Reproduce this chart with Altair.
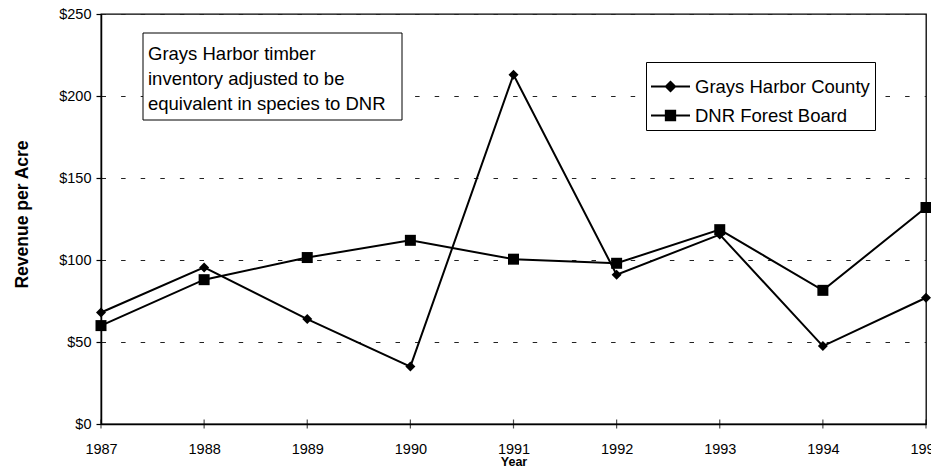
import altair as alt
import pandas as pd

years = [1987, 1988, 1989, 1990, 1991, 1992, 1993, 1994, 1995]
grays_harbor = [68, 95.5, 64, 35, 213, 91, 115.5, 47.5, 77]
dnr_forest = [60, 88, 101.5, 112, 100.5, 98, 118.5, 81.5, 132]
series_names = ["Grays Harbor County", "DNR Forest Board"]
y_ticks = [0, 50, 100, 150, 200, 250]
note_lines = ["Grays Harbor timber", "inventory adjusted to be", "equivalent in species to DNR"]

rows = []
for name, vals in zip(series_names, [grays_harbor, dnr_forest]):
    for yr, v in zip(years, vals):
        rows.append({"Year": yr, "Revenue": v, "Series": name})
df = pd.DataFrame(rows)
yr_df = pd.DataFrame({"Year": years})

FONT = "Liberation Sans"

x_enc = alt.X(
    "Year:Q",
    scale=alt.Scale(domain=[years[0], years[-1]], nice=False, zero=False),
    axis=alt.Axis(
        values=years, format="d", title="Year", ticks=False, tickSize=0,
        labelPadding=18.5, labelFontSize=14.5, labelFont=FONT, labelColor="black",
        labelFlush=False, labelOverlap=False, labelBound=False,
        domainColor="black", domainWidth=1.5, grid=False,
        titleFont=FONT, titleFontSize=12.5, titleFontWeight="bold",
        titleColor="black", titleBaseline="alphabetic", titleY=41,
    ),
)
y_enc = alt.Y(
    "Revenue:Q",
    scale=alt.Scale(domain=[0, 250], nice=False),
    axis=alt.Axis(
        values=y_ticks, format="$.0f", title="Revenue per Acre",
        tickSize=5, tickColor="black", tickWidth=1.2,
        labelPadding=5, labelFontSize=14.5, labelFont=FONT, labelColor="black",
        labelOverlap=False,
        domainColor="black", domainWidth=1.5,
        grid=True, gridColor="#222222", gridDash=[4.5, 15.1], gridWidth=1,
        titleFont=FONT, titleFontSize=17.5, titleFontWeight="bold",
        titleColor="black", titleX=-79, titleY=200, titleBaseline="middle",
    ),
)

box = alt.Chart(pd.DataFrame({"k": [0]})).mark_rect(
    fill="white", stroke="black", strokeWidth=1
).encode(
    x=alt.value(42), x2=alt.value(301), y=alt.value(19), y2=alt.value(106)
)
note = alt.Chart(pd.DataFrame({"k": [0]})).mark_text(
    align="left", baseline="alphabetic", font=FONT, fontSize=18.5,
    lineHeight=25, color="black"
).encode(x=alt.value(47), y=alt.value(46), text=alt.value(note_lines))

xticks = alt.Chart(yr_df).mark_tick(
    orient="vertical", size=9, thickness=1.2, color="black"
).encode(x=x_enc, y=alt.datum(0))

lines = alt.Chart(df).mark_line(color="black", strokeWidth=2).encode(
    x=x_enc, y=y_enc, detail="Series:N"
)
points = alt.Chart(df).mark_point(filled=True, color="black", opacity=1).encode(
    x=x_enc, y=y_enc,
    shape=alt.Shape("Series:N", scale=alt.Scale(domain=series_names, range=["diamond", "square"]), legend=None),
    size=alt.Size("Series:N", scale=alt.Scale(domain=series_names, range=[100, 121]), legend=None),
)

# legend glyphs: a short line with the marker in its middle (unit-square paths)
legend_paths = [
    "M-1,-0.052H1V0.052H-1ZM-0.31,0L0,-0.31L0.31,0L0,0.31Z",
    "M-1,-0.052H1V0.052H-1ZM-0.29,-0.29H0.29V0.29H-0.29Z",
]
legend_layer = alt.Chart(df).transform_filter("false").mark_point(
    filled=True, color="black", opacity=1
).encode(
    x=x_enc, y=y_enc,
    shape=alt.Shape(
        "Series:N",
        scale=alt.Scale(domain=series_names, range=legend_paths),
        legend=alt.Legend(
            title=None, orient="none", legendX=545, legendY=48,
            symbolSize=1521, symbolFillColor="black", symbolStrokeWidth=0,
            labelFont=FONT, labelFontSize=18.5, labelLimit=400,
            labelColor="black", labelOffset=5, padding=5, rowPadding=-3,
            strokeColor="black", fillColor="white",
        ),
    ),
)

chart = alt.layer(box, note, xticks, lines, points, legend_layer).resolve_scale(
    shape="independent"
).properties(
    width=825, height=410,
    padding={"left": 93, "top": 6, "right": 5, "bottom": 43},
    autosize=alt.AutoSizeParams(type="none"),
).configure_view(stroke="black", strokeWidth=1.3)

chart.save("out.html", embed_options={"renderer": "svg", "actions": False})
